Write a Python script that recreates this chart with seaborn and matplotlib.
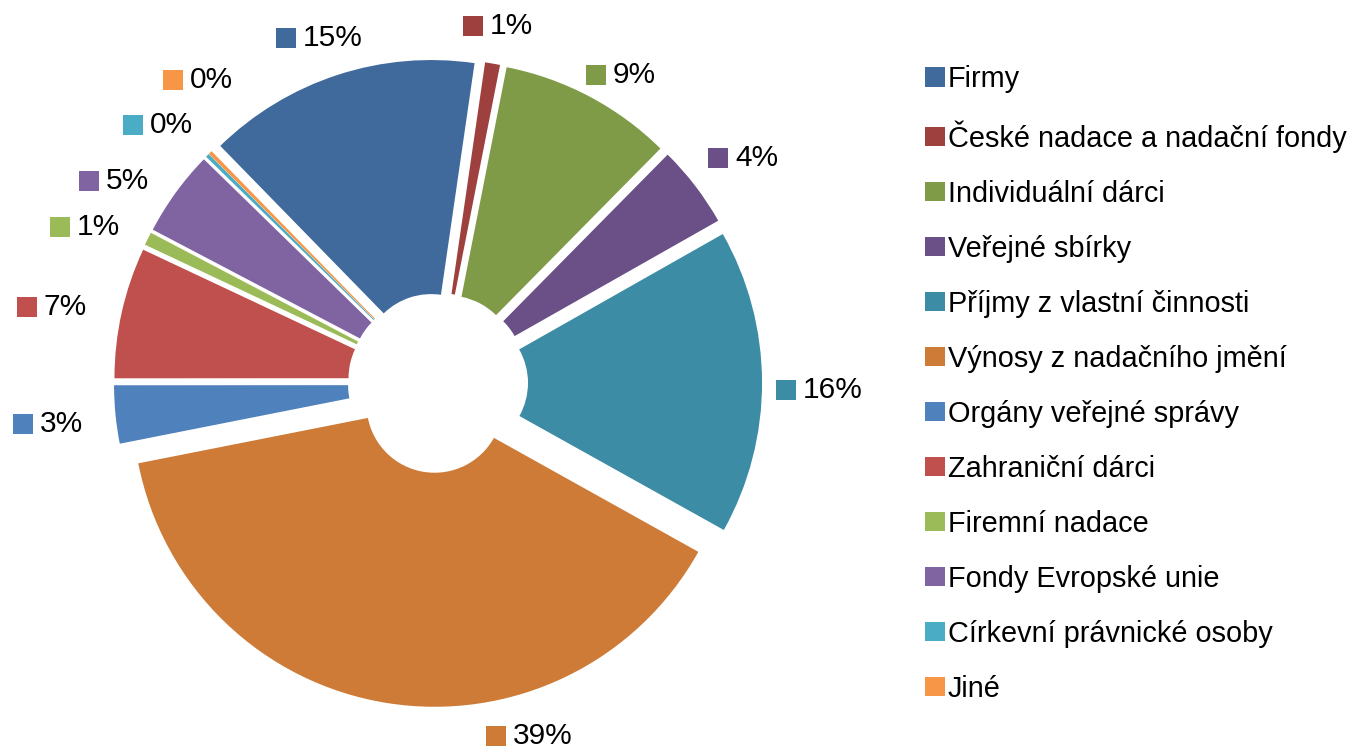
import matplotlib
matplotlib.use("Agg")
import matplotlib.pyplot as plt
import matplotlib.patches as mpatches
import seaborn as sns

# data
categories = ['Firmy', 'České nadace a nadační fondy', 'Individuální dárci',
              'Veřejné sbírky', 'Příjmy z vlastní činnosti', 'Výnosy z nadačního jmění',
              'Orgány veřejné správy', 'Zahraniční dárci', 'Firemní nadace',
              'Fondy Evropské unie', 'Církevní právnické osoby', 'Jiné']
shares = [14.6, 0.8, 9.3, 4.4, 16.3, 38.8, 3.1, 7.0, 0.7, 4.6, 0.2, 0.2]
colors = ['#40699C', '#9E413E', '#809B48', '#6A5086', '#3C8CA5', '#CD7B37',
          '#4F81BD', '#C0504D', '#9BBB59', '#8064A2', '#4BACC6', '#F79646']
# where Excel put the data labels (square centre, in pie radius units)
label_pos = [(-0.503, 1.142), (0.116, 1.182), (0.523, 1.020), (0.927, 0.745),
             (1.152, -0.023), (0.192, -1.169), (-1.374, -0.136), (-1.361, 0.252),
             (-1.252, 0.517), (-1.156, 0.669), (-1.010, 0.854), (-0.877, 1.003)]

sns.set_style("white")
plt.rcParams['font.family'] = ['Liberation Sans', 'DejaVu Sans']
plt.rcParams['text.color'] = 'black'

W, H = 1352, 749
R = 302.0           # outer radius in px
cx, cy = 438, 383   # pie centre in px (from top-left)

fig = plt.figure(figsize=(W / 100, H / 100), dpi=100)
ax = fig.add_axes([0, 0, 1, 1])

ax.pie(shares, colors=colors, startangle=134.3, counterclock=False,
       explode=[0.073] * len(shares), radius=1,
       wedgeprops=dict(width=0.775, linewidth=0))

ax.set_xlim(-cx / R, (W - cx) / R)
ax.set_ylim(-(H - cy) / R, cy / R)
ax.set_aspect('auto')
ax.axis('off')

fs = 21.5
for (x, y), v, c in zip(label_pos, shares, colors):
    ax.add_patch(mpatches.Rectangle((x - 10 / R, y - 10 / R), 20 / R, 20 / R,
                                    facecolor=c, edgecolor='none'))
    ax.text(x + 17 / R, y, f"{round(v)}%", fontsize=fs, ha='left', va='center',
            color='black')

handles = [mpatches.Patch(facecolor=c, edgecolor='none') for c in colors]
fig.legend(handles, categories, loc='upper left',
           bbox_to_anchor=(925 / W, 1 - 65 / H), frameon=False, fontsize=20.8,
           labelcolor='black',
           handlelength=0.69, handleheight=0.67, handletextpad=0.1,
           labelspacing=0.935, borderpad=0, borderaxespad=0)

plt.savefig('out.png', dpi=100)
